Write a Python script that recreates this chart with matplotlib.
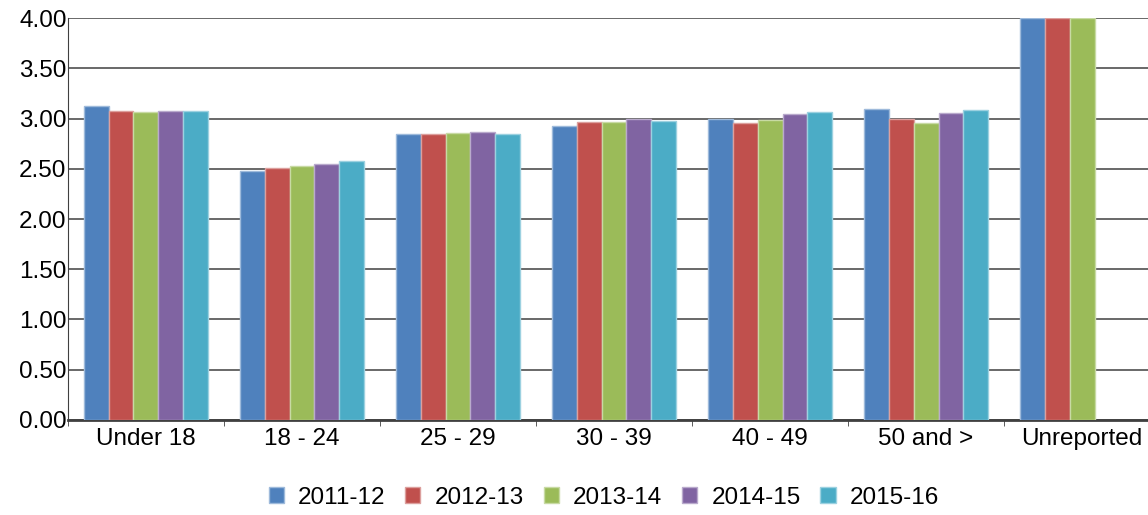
import numpy as np
import matplotlib.pyplot as plt
from matplotlib.colors import to_rgb

plt.rcParams['font.family'] = ['Liberation Sans', 'DejaVu Sans']

categories = ['Under 18', '18 - 24', '25 - 29', '30 - 39', '40 - 49', '50 and >', 'Unreported']
years = ['2011-12', '2012-13', '2013-14', '2014-15', '2015-16']

v2011 = [3.12, 2.48, 2.85, 2.93, 3.00, 3.09, 4.00]
v2012 = [3.07, 2.51, 2.85, 2.97, 2.96, 3.00, 4.00]
v2013 = [3.06, 2.53, 2.86, 2.97, 2.99, 2.96, 4.00]
v2014 = [3.07, 2.55, 2.87, 3.00, 3.04, 3.05, None]
v2015 = [3.07, 2.58, 2.85, 2.98, 3.06, 3.08, None]

series = [v2011, v2012, v2013, v2014, v2015]
colors = ['#4F81BD', '#C0504D', '#9BBB59', '#8064A2', '#4BACC6']


def lighter(c, f=0.45):
    r, g, b = to_rgb(c)
    return (r + (1 - r) * f, g + (1 - g) * f, b + (1 - b) * f)


fig = plt.figure(figsize=(11.48, 5.15), dpi=100)
ax = fig.add_axes([0.0592, 0.1845, 0.9513, 0.7805])

x = np.arange(len(categories))
w = 0.16
for i, (vals, col, name) in enumerate(zip(series, colors, years)):
    xs = [x[j] + (i - 2) * w for j in range(len(vals)) if vals[j] is not None]
    ys = [v for v in vals if v is not None]
    ax.bar(xs, ys, width=w, color=col, edgecolor=lighter(col), linewidth=1,
           label=name, zorder=3)

ax.set_xlim(-0.5, len(categories) - 0.5)
ax.set_ylim(0, 4)
ax.set_yticks(np.arange(0, 4.01, 0.5))
ax.set_yticklabels(['%.2f' % t for t in np.arange(0, 4.01, 0.5)])
ax.yaxis.grid(True, color='#404040', linewidth=1.1, zorder=0)
ax.set_axisbelow(True)

ax.set_xticks(x)
ax.set_xticklabels(categories)
ax.set_xticks(np.arange(-0.5, len(categories)), minor=True)
ax.tick_params(axis='x', which='major', length=0, labelsize=17.5, pad=6)
ax.tick_params(axis='x', which='minor', length=4, color='#404040')
ax.tick_params(axis='y', length=0, labelsize=17.5, pad=1)

for s in ['top', 'right']:
    ax.spines[s].set_visible(False)
ax.spines['left'].set_color('#404040')
ax.spines['bottom'].set_color('#404040')
ax.spines['bottom'].set_linewidth(2)

fig.legend(loc='lower center', bbox_to_anchor=(0.526, -0.03), ncol=5, frameon=False,
           fontsize=17.5, handlelength=0.62, handleheight=0.62, handletextpad=0.58,
           columnspacing=0.82)

fig.savefig('out.png', dpi=100)
